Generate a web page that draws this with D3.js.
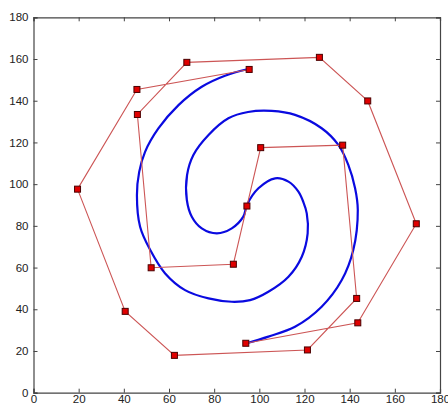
<!DOCTYPE html>
<html>
<head>
<meta charset="utf-8">
<script src="https://cdn.jsdelivr.net/npm/d3@7"></script>
<style>
  html, body { margin: 0; padding: 0; background: #ffffff; }
  svg { display: block; }
  text { font-family: "Liberation Sans", Arial, sans-serif; }
</style>
</head>
<body>
<svg id="chart" width="448" height="408"></svg>
<script>
// Control polygon (red, with square markers), in drawing order
const ctrlX = [95.5, 45.8, 19.5, 40.6, 62.4, 121.3, 143.1, 136.9, 100.6, 94.5, 88.5, 52.1, 46.0, 67.9, 126.6, 148.0, 169.5, 143.6, 94.0];
const ctrlY = [155.0, 145.4, 97.6, 39.0, 17.9, 20.5, 45.2, 118.7, 117.5, 89.5, 61.6, 59.9, 133.4, 158.4, 160.8, 139.9, 81.0, 33.5, 23.7];

// Blue spline curve
const curveX = [95.2, 84.8, 74.5, 64.2, 55.3, 49.4, 46.8, 45.8, 47.2, 51.7, 58.3, 67.1, 77.5, 87.8, 95.9, 104.0, 112.9, 118.8, 121.4, 121.0, 119.5, 117.3, 112.9, 107.0, 99.6, 94.5,
                92.9, 87.8, 81.2, 74.5, 70.1, 67.9, 68.0, 70.8, 77.5, 86.3, 95.0, 105.5, 115.8, 127.6, 135.0, 139.4, 142.4, 143.6, 141.6, 136.5, 127.6, 115.8, 104.0, 94.3];
const curveY = [155.2, 152.0, 146.7, 137.9, 126.7, 115.5, 105.9, 94.7, 79.6, 68.4, 57.2, 49.2, 45.2, 43.6, 44.4, 48.4, 55.6, 65.2, 76.4, 86.0, 91.4, 96.4, 101.2, 102.8, 98.0, 90.0,
                84.4, 78.8, 76.4, 78.8, 84.4, 92.4, 104.4, 114.0, 123.6, 131.6, 134.6, 135.1, 133.2, 126.8, 118.8, 109.2, 98.0, 87.6, 68.4, 54.0, 41.2, 31.6, 26.9, 23.7];

// Axis ticks
const xTicks = [0, 20, 40, 60, 80, 100, 120, 140, 160, 180];
const yTicks = [0, 20, 40, 60, 80, 100, 120, 140, 160, 180];

const svg = d3.select("#chart");
const L = 33.5, R = 440, T = 17.3, B = 392.7;

const x = d3.scaleLinear().domain([0, 180]).range([L, R]);
const y = d3.scaleLinear().domain([0, 180]).range([B, T]);

svg.append("rect").attr("x", 0).attr("y", 0).attr("width", 448).attr("height", 408).attr("fill", "#ffffff");

// Axes (MATLAB-style box with inward ticks)
const tickLen = 4;
const axB = svg.append("g").attr("transform", `translate(0,${B})`)
  .call(d3.axisBottom(x).tickValues(xTicks).tickSize(-tickLen).tickPadding(2).tickFormat(d3.format("d")));
const axT = svg.append("g").attr("transform", `translate(0,${T})`)
  .call(d3.axisTop(x).tickValues(xTicks).tickSize(-tickLen).tickFormat(""));
const axL = svg.append("g").attr("transform", `translate(${L},0)`)
  .call(d3.axisLeft(y).tickValues(yTicks).tickSize(-tickLen).tickPadding(5).tickFormat(d3.format("d")));
const axR = svg.append("g").attr("transform", `translate(${R},0)`)
  .call(d3.axisRight(y).tickValues(yTicks).tickSize(-tickLen).tickFormat(""));

[axB, axT, axL, axR].forEach(g => {
  g.select(".domain").attr("stroke", "#444444").attr("stroke-width", 1.2);
  g.selectAll(".tick line").attr("stroke", "#444444");
  g.selectAll(".tick text").attr("fill", "#222222").style("font-size", "11.5px")
    .style("font-family", "'Liberation Sans', Arial, sans-serif");
});

// Blue curve
const curvePts = curveX.map((v, i) => [v, curveY[i]]);
svg.append("path")
  .datum(curvePts)
  .attr("fill", "none")
  .attr("stroke", "#0a0ae0")
  .attr("stroke-width", 2.2)
  .attr("d", d3.line().x(d => x(d[0])).y(d => y(d[1])).curve(d3.curveCatmullRom.alpha(0.5)));

// Red control polygon
const ctrlPts = ctrlX.map((v, i) => [v, ctrlY[i]]);
svg.append("path")
  .datum(ctrlPts)
  .attr("fill", "none")
  .attr("stroke", "#cc5555")
  .attr("stroke-width", 1.1)
  .attr("d", d3.line().x(d => x(d[0])).y(d => y(d[1])));

// Square markers
const ms = 6;
svg.append("g").selectAll("rect")
  .data(ctrlPts)
  .join("rect")
  .attr("x", d => x(d[0]) - ms / 2)
  .attr("y", d => y(d[1]) - ms / 2)
  .attr("width", ms)
  .attr("height", ms)
  .attr("fill", "#e00000")
  .attr("stroke", "#4a0000")
  .attr("stroke-width", 1);
</script>
</body>
</html>
